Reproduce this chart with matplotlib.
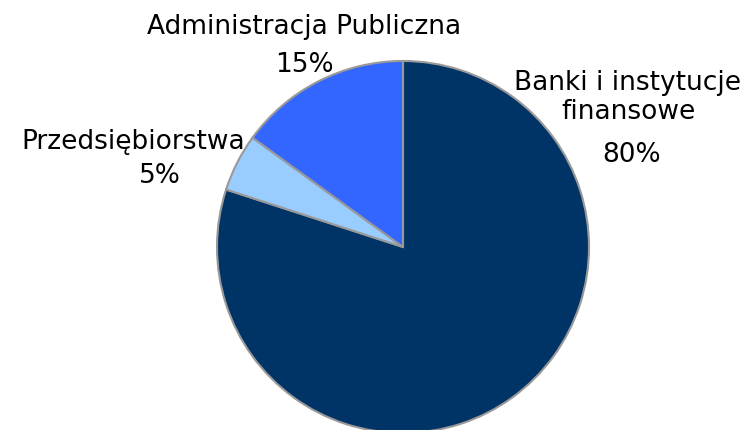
import matplotlib
matplotlib.use('Agg')
import matplotlib.pyplot as plt

labels = ['Banki i instytucje\nfinansowe', 'Przedsiębiorstwa', 'Administracja Publiczna']
shares = [80, 5, 15]
colors = ['#003366', '#99ccff', '#3366ff']

W, H = 749, 430
fig = plt.figure(figsize=(W / 100, H / 100), dpi=100)
ax = fig.add_axes([0, 0, 1, 1])

ax.pie(shares, colors=colors, startangle=90, counterclock=False,
       center=(403, H - 247), radius=186,
       wedgeprops=dict(edgecolor='#999999', linewidth=1.5))
ax.set_xlim(0, W)
ax.set_ylim(0, H)
ax.set_aspect('equal')
ax.axis('off')

fs = 19
kw = dict(ha='center', va='baseline', fontsize=fs, family='DejaVu Sans')
ax.text(628, H - 90, 'Banki i instytucje', **kw)
ax.text(629, H - 119, 'finansowe', **kw)
ax.text(632, H - 162, '%d%%' % shares[0], **kw)

ax.text(133, H - 149, 'Przedsiębiorstwa', **kw)
ax.text(160, H - 183, '%d%%' % shares[1], **kw)

ax.text(304, H - 34, 'Administracja Publiczna', **kw)
ax.text(304, H - 72, '%d%%' % shares[2], **kw)

fig.savefig('out.png', dpi=100)
